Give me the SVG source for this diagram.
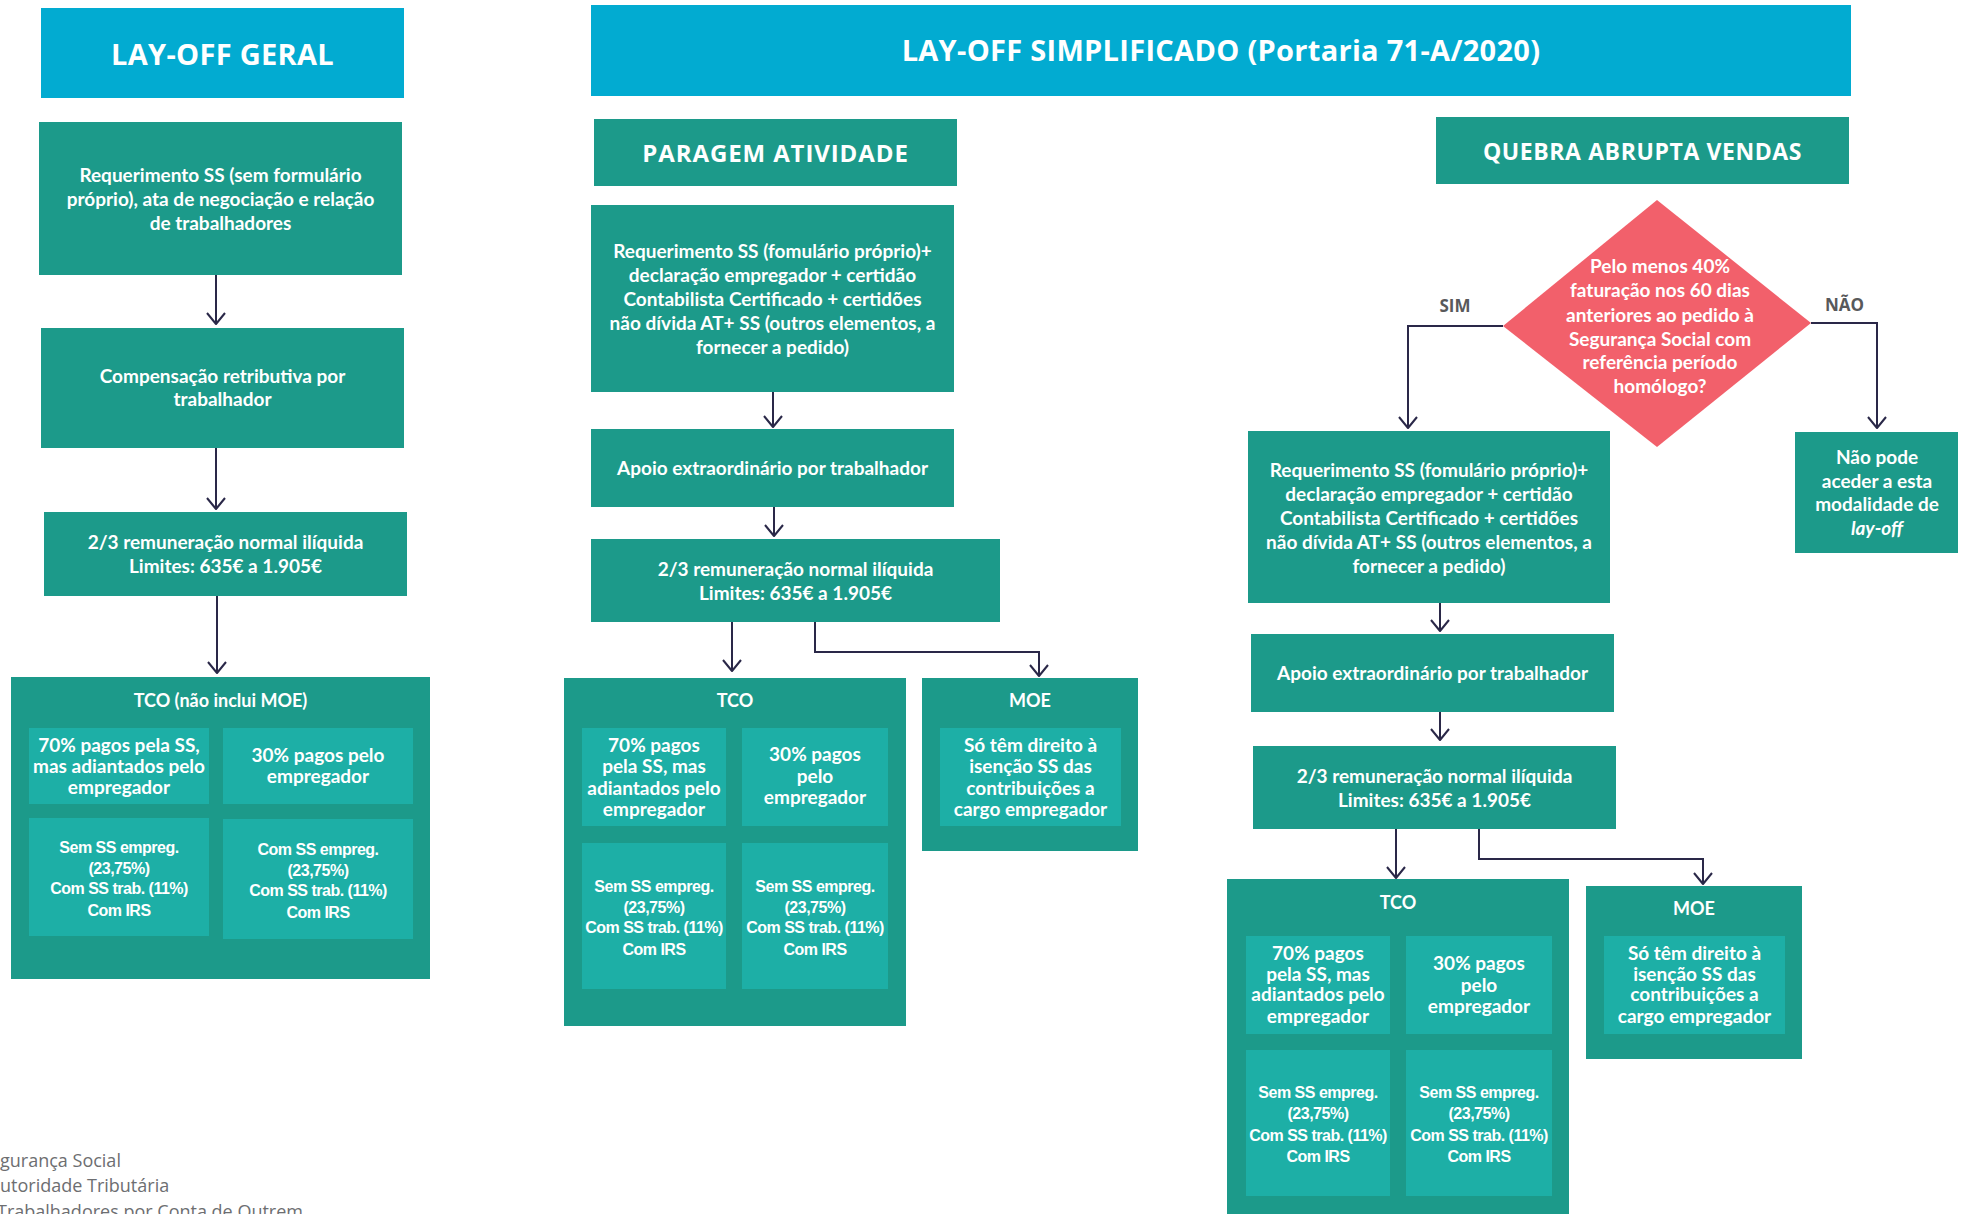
<svg xmlns="http://www.w3.org/2000/svg" width="1962" height="1214" viewBox="0 0 1962 1214">
<style>
.hdr{fill:#02ABD1}
.box{fill:#1C9A8A}
.sub{fill:#1DAFA6}
.dia{fill:#F2606B}
.ht{font-family:"Open Sans","Liberation Sans",sans-serif;font-weight:700;fill:#fff;text-anchor:middle;font-size:29px;letter-spacing:0.3px}
.st{font-family:"Open Sans","Liberation Sans",sans-serif;font-weight:700;fill:#fff;text-anchor:middle}
.t{font-family:Lato,"Liberation Sans",sans-serif;font-weight:700;fill:#fff;text-anchor:middle;font-size:19px}
.tt{font-family:Lato,"Liberation Sans",sans-serif;font-weight:700;fill:#fff;text-anchor:middle;font-size:18px}
.c{font-family:"Liberation Sans",Arial,sans-serif;font-weight:700;fill:#fff;text-anchor:middle;font-size:16px;letter-spacing:-0.5px}
.lbl{font-family:"Open Sans","Liberation Sans",sans-serif;font-weight:700;fill:#58595B;text-anchor:middle;font-size:17px}
.foot{font-family:"Open Sans","Liberation Sans",sans-serif;fill:#6D6E71;font-size:18px}
.ln{fill:none;stroke:#2A2848;stroke-width:2;marker-end:url(#ah)}
</style>
<defs>
<marker id="ah" viewBox="-13 -11 15 22" refX="0" refY="0" markerWidth="15" markerHeight="22" markerUnits="userSpaceOnUse" orient="auto">
<path d="M-11,-9 L0,0 L-11,9" fill="none" stroke="#2A2848" stroke-width="2" stroke-linejoin="round"/>
</marker>
</defs>
<rect width="1962" height="1214" fill="#fff"/>

<!-- LAY-OFF GERAL column -->
<g id="hdr-geral">
<rect class="hdr" x="41" y="8" width="363" height="90"/>
<text class="ht" x="222.5" y="65">LAY-OFF GERAL</text>
</g>
<g id="geral-req">
<rect class="box" x="39" y="122" width="363" height="153"/>
<text class="t" x="220.5" y="182">Requerimento SS (sem formulário</text>
<text class="t" x="220.5" y="206">próprio), ata de negociação e relação</text>
<text class="t" x="220.5" y="230">de trabalhadores</text>
</g>
<g id="geral-comp">
<rect class="box" x="41" y="328" width="363" height="120"/>
<text class="t" x="222.5" y="383">Compensação retributiva por</text>
<text class="t" x="222.5" y="406">trabalhador</text>
</g>
<g id="geral-rem">
<rect class="box" x="44" y="512" width="363" height="84"/>
<text class="t" x="225.5" y="549">2/3 remuneração normal ilíquida</text>
<text class="t" x="225.5" y="573">Limites: 635€ a 1.905€</text>
</g>
<g id="geral-tco">
<rect class="box" x="11" y="677" width="419" height="302"/>
<text class="tt" x="220.5" y="707">TCO (não inclui MOE)</text>
<rect class="sub" x="29" y="728" width="180" height="76"/>
<text class="t" x="119" y="752">70% pagos pela SS,</text>
<text class="t" x="119" y="773">mas adiantados pelo</text>
<text class="t" x="119" y="794">empregador</text>
<rect class="sub" x="223" y="728" width="190" height="76"/>
<text class="t" x="318" y="762">30% pagos pelo</text>
<text class="t" x="318" y="783">empregador</text>
<rect class="sub" x="29" y="818" width="180" height="118"/>
<text class="c" x="119" y="853">Sem SS empreg.</text>
<text class="c" x="119" y="874">(23,75%)</text>
<text class="c" x="119" y="894">Com SS trab. (11%)</text>
<text class="c" x="119" y="916">Com IRS</text>
<rect class="sub" x="223" y="819" width="190" height="120"/>
<text class="c" x="318" y="855">Com SS empreg.</text>
<text class="c" x="318" y="876">(23,75%)</text>
<text class="c" x="318" y="896">Com SS trab. (11%)</text>
<text class="c" x="318" y="918">Com IRS</text>
</g>

<!-- LAY-OFF SIMPLIFICADO -->
<g id="hdr-simpl">
<rect class="hdr" x="591" y="5" width="1260" height="91"/>
<text class="ht" x="1221" y="61">LAY-OFF SIMPLIFICADO (Portaria 71-A/2020)</text>
</g>
<g id="hdr-paragem">
<rect class="box" x="594" y="119" width="363" height="67"/>
<text class="st" x="775.5" y="162" font-size="24" letter-spacing="0.9">PARAGEM ATIVIDADE</text>
</g>
<g id="par-req">
<rect class="box" x="591" y="205" width="363" height="187"/>
<text class="t" x="772.5" y="258">Requerimento SS (fomulário próprio)+</text>
<text class="t" x="772.5" y="282">declaração empregador + certidão</text>
<text class="t" x="772.5" y="306">Contabilista Certificado + certidões</text>
<text class="t" x="772.5" y="330">não dívida AT+ SS  (outros elementos, a</text>
<text class="t" x="772.5" y="354">fornecer a pedido)</text>
</g>
<g id="par-apoio">
<rect class="box" x="591" y="429" width="363" height="78"/>
<text class="t" x="772.5" y="475">Apoio extraordinário por trabalhador</text>
</g>
<g id="par-rem">
<rect class="box" x="591" y="539" width="409" height="83"/>
<text class="t" x="795.5" y="576">2/3 remuneração normal ilíquida</text>
<text class="t" x="795.5" y="600">Limites: 635€ a 1.905€</text>
</g>
<g id="par-tco">
<rect class="box" x="564" y="678" width="342" height="348"/>
<text class="tt" x="735" y="707">TCO</text>
<rect class="sub" x="582" y="728" width="144" height="98"/>
<text class="t" x="654" y="752">70% pagos</text>
<text class="t" x="654" y="773">pela SS, mas</text>
<text class="t" x="654" y="795">adiantados pelo</text>
<text class="t" x="654" y="816">empregador</text>
<rect class="sub" x="742" y="728" width="146" height="98"/>
<text class="t" x="815" y="761">30% pagos</text>
<text class="t" x="815" y="783">pelo</text>
<text class="t" x="815" y="804">empregador</text>
<rect class="sub" x="582" y="843" width="144" height="146"/>
<text class="c" x="654" y="892">Sem SS empreg.</text>
<text class="c" x="654" y="913">(23,75%)</text>
<text class="c" x="654" y="933">Com SS trab. (11%)</text>
<text class="c" x="654" y="955">Com IRS</text>
<rect class="sub" x="742" y="843" width="146" height="146"/>
<text class="c" x="815" y="892">Sem SS empreg.</text>
<text class="c" x="815" y="913">(23,75%)</text>
<text class="c" x="815" y="933">Com SS trab. (11%)</text>
<text class="c" x="815" y="955">Com IRS</text>
</g>
<g id="par-moe">
<rect class="box" x="922" y="678" width="216" height="173"/>
<text class="tt" x="1030" y="707">MOE</text>
<rect class="sub" x="940" y="728" width="181" height="98"/>
<text class="t" x="1030.5" y="752">Só têm direito à</text>
<text class="t" x="1030.5" y="773">isenção SS das</text>
<text class="t" x="1030.5" y="795">contribuições a</text>
<text class="t" x="1030.5" y="816">cargo empregador</text>
</g>

<!-- QUEBRA ABRUPTA VENDAS -->
<g id="hdr-quebra">
<rect class="box" x="1436" y="117" width="413" height="67"/>
<text class="st" x="1642.5" y="160" font-size="23" letter-spacing="0.6">QUEBRA ABRUPTA VENDAS</text>
</g>
<g id="q-decisao">
<polygon class="dia" points="1657,200 1811,323 1657,447 1503,326"/>
<text class="t" x="1660" y="273">Pelo menos 40%</text>
<text class="t" x="1660" y="297">faturação nos 60 dias</text>
<text class="t" x="1660" y="322">anteriores ao pedido à</text>
<text class="t" x="1660" y="346">Segurança Social com</text>
<text class="t" x="1660" y="369">referência período</text>
<text class="t" x="1660" y="393">homólogo?</text>
</g>
<g id="q-nao-pode">
<rect class="box" x="1795" y="432" width="163" height="121"/>
<text class="t" x="1877" y="464">Não pode</text>
<text class="t" x="1877" y="488">aceder a esta</text>
<text class="t" x="1877" y="511">modalidade de</text>
<text class="t" x="1877" y="535" font-style="italic">lay-off</text>
</g>
<g id="q-req">
<rect class="box" x="1248" y="431" width="362" height="172"/>
<text class="t" x="1429" y="477">Requerimento SS (fomulário próprio)+</text>
<text class="t" x="1429" y="501">declaração empregador + certidão</text>
<text class="t" x="1429" y="525">Contabilista Certificado + certidões</text>
<text class="t" x="1429" y="549">não dívida AT+ SS  (outros elementos, a</text>
<text class="t" x="1429" y="573">fornecer a pedido)</text>
</g>
<g id="q-apoio">
<rect class="box" x="1251" y="634" width="363" height="78"/>
<text class="t" x="1432.5" y="680">Apoio extraordinário por trabalhador</text>
</g>
<g id="q-rem">
<rect class="box" x="1253" y="746" width="363" height="83"/>
<text class="t" x="1434.5" y="783">2/3 remuneração normal ilíquida</text>
<text class="t" x="1434.5" y="807">Limites: 635€ a 1.905€</text>
</g>
<g id="q-tco">
<rect class="box" x="1227" y="879" width="342" height="340"/>
<text class="tt" x="1398" y="909">TCO</text>
<rect class="sub" x="1246" y="936" width="144" height="98"/>
<text class="t" x="1318" y="960">70% pagos</text>
<text class="t" x="1318" y="981">pela SS, mas</text>
<text class="t" x="1318" y="1001">adiantados pelo</text>
<text class="t" x="1318" y="1023">empregador</text>
<rect class="sub" x="1406" y="936" width="146" height="98"/>
<text class="t" x="1479" y="970">30% pagos</text>
<text class="t" x="1479" y="992">pelo</text>
<text class="t" x="1479" y="1013">empregador</text>
<rect class="sub" x="1246" y="1050" width="144" height="146"/>
<text class="c" x="1318" y="1098">Sem SS empreg.</text>
<text class="c" x="1318" y="1119">(23,75%)</text>
<text class="c" x="1318" y="1141">Com SS trab. (11%)</text>
<text class="c" x="1318" y="1162">Com IRS</text>
<rect class="sub" x="1406" y="1050" width="146" height="146"/>
<text class="c" x="1479" y="1098">Sem SS empreg.</text>
<text class="c" x="1479" y="1119">(23,75%)</text>
<text class="c" x="1479" y="1141">Com SS trab. (11%)</text>
<text class="c" x="1479" y="1162">Com IRS</text>
</g>
<g id="q-moe">
<rect class="box" x="1586" y="886" width="216" height="173"/>
<text class="tt" x="1694" y="915">MOE</text>
<rect class="sub" x="1604" y="936" width="181" height="98"/>
<text class="t" x="1694.5" y="960">Só têm direito à</text>
<text class="t" x="1694.5" y="981">isenção SS das</text>
<text class="t" x="1694.5" y="1001">contribuições a</text>
<text class="t" x="1694.5" y="1023">cargo empregador</text>
</g>

<!-- connectors -->
<g id="connectors">
<path class="ln" d="M216,275 V324"/>
<path class="ln" d="M216,448 V509"/>
<path class="ln" d="M217,596 V673"/>
<path class="ln" d="M773,392 V427"/>
<path class="ln" d="M774,507 V536"/>
<path class="ln" d="M732,622 V671"/>
<path class="ln" d="M815,622 V652 H1039 V676"/>
<path class="ln" d="M1503,326 H1408 V428"/>
<path class="ln" d="M1811,323 H1877 V428"/>
<path class="ln" d="M1440,603 V631"/>
<path class="ln" d="M1440,712 V740"/>
<path class="ln" d="M1396,829 V878"/>
<path class="ln" d="M1479,829 V859 H1703 V884"/>
<text class="lbl" x="1455" y="312">SIM</text>
<text class="lbl" x="1844.5" y="311">NÃO</text>
</g>

<g id="legenda">
<text class="foot" x="0" y="1167">gurança Social</text>
<text class="foot" x="0" y="1192">utoridade Tributária</text>
<text class="foot" x="-3" y="1218">Trabalhadores por Conta de Outrem</text>
</g>
</svg>
